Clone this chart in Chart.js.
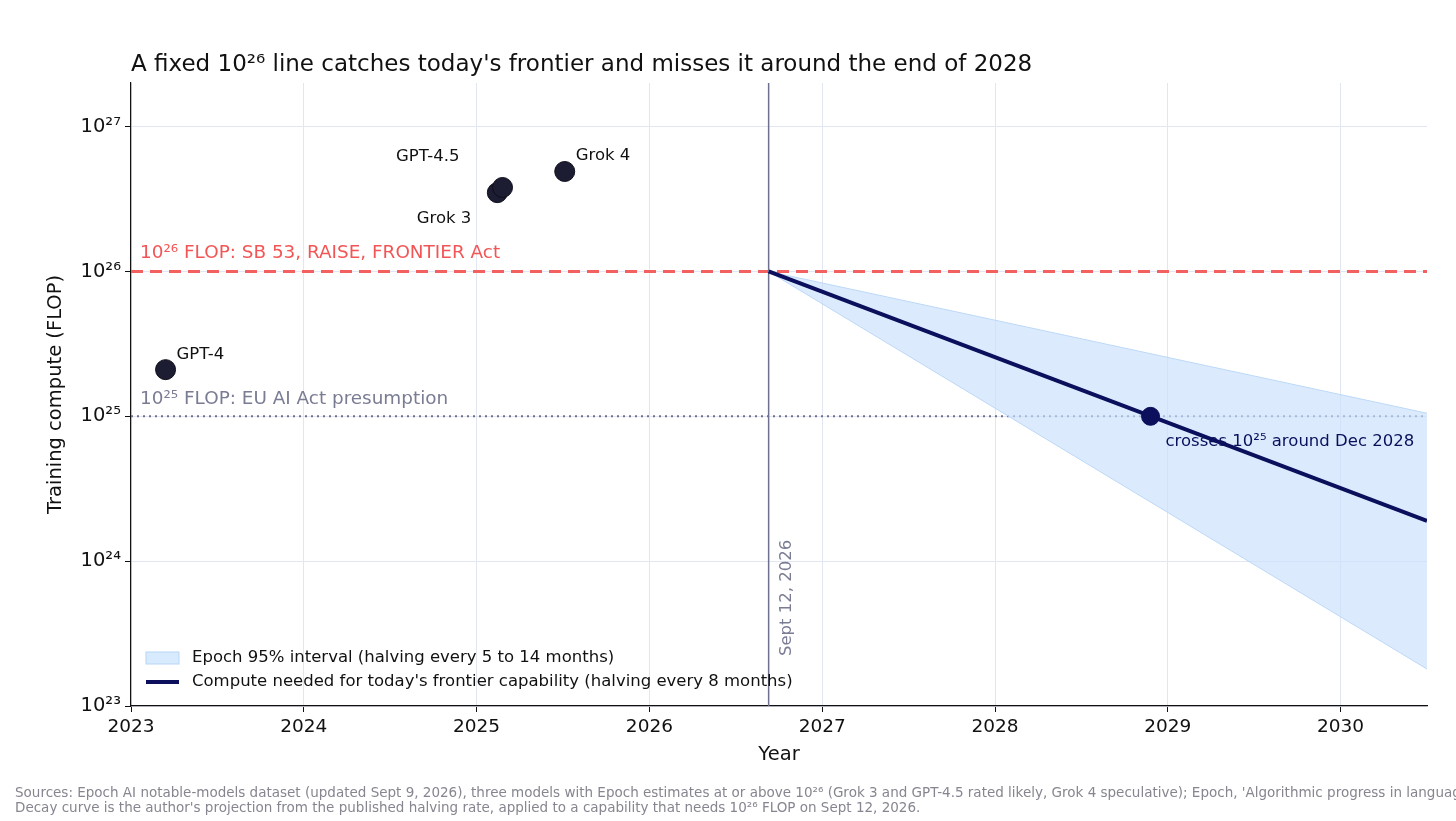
<!DOCTYPE html>
<html>
<head>
<meta charset="utf-8">
<script src="https://cdn.jsdelivr.net/npm/chart.js@4"></script>
<style>
  body { margin: 0; background: #fff; }
  canvas { display: block; }
</style>
</head>
<body>
<canvas id="chart" width="1456" height="821"></canvas>
<script>
// data
const modelNames = ['GPT-4', 'Grok 3', 'GPT-4.5', 'Grok 4'];
const modelYears = [2023.2, 2025.12, 2025.15, 2025.51];
const modelCompute = [2.1e25, 3.5e26, 3.8e26, 4.9e26];

const projYears = [2026.69, 2030.5];
const projCentral = [1e26, 1.9e24];
const projUpper = [1e26, 1.05e25];
const projLower = [1e26, 1.8e23];

const crossYear = 2028.9;
const crossValue = 1e25;
const cutoffYear = 2026.69;

const xTicks = [2023, 2024, 2025, 2026, 2027, 2028, 2029, 2030];
const yTicks = [1e23, 1e24, 1e25, 1e26, 1e27];
const yTickLabels = ['10²³', '10²⁴', '10²⁵', '10²⁶', '10²⁷'];

const FONT = 'DejaVu Sans';
const NAVY = '#0b0f5c';

const annotations = {
  id: 'annotations',
  beforeDatasetsDraw(chart) {
    const { ctx, scales: { x, y }, chartArea: a } = chart;
    ctx.save();
    // threshold lines
    ctx.lineWidth = 3;
    ctx.strokeStyle = '#f26060';
    ctx.setLineDash([12, 7]);
    ctx.beginPath();
    ctx.moveTo(a.left, y.getPixelForValue(1e26));
    ctx.lineTo(a.right, y.getPixelForValue(1e26));
    ctx.stroke();
    ctx.lineWidth = 2;
    ctx.strokeStyle = '#6e7090';
    ctx.setLineDash([2, 4]);
    ctx.beginPath();
    ctx.moveTo(a.left, y.getPixelForValue(1e25));
    ctx.lineTo(a.right, y.getPixelForValue(1e25));
    ctx.stroke();
    ctx.setLineDash([]);
    // cutoff line
    ctx.lineWidth = 1.5;
    ctx.strokeStyle = '#6e7090';
    ctx.beginPath();
    ctx.moveTo(x.getPixelForValue(cutoffYear), a.top);
    ctx.lineTo(x.getPixelForValue(cutoffYear), a.bottom);
    ctx.stroke();
    ctx.restore();
  },
  afterDraw(chart) {
    const { ctx, scales: { x, y }, chartArea: a } = chart;
    ctx.save();
    ctx.textBaseline = 'alphabetic';
    ctx.fillStyle = '#111';
    ctx.font = `23px ${FONT}`;
    ctx.fillText("A fixed 10²⁶ line catches today's frontier and misses it around the end of 2028", 131, 71);

    ctx.font = `18.4px ${FONT}`;
    ctx.fillStyle = '#f25555';
    ctx.fillText('10²⁶ FLOP: SB 53, RAISE, FRONTIER Act', 140, 258);
    ctx.fillStyle = '#7a7c94';
    ctx.fillText('10²⁵ FLOP: EU AI Act presumption', 140, 404);

    ctx.font = `16.5px ${FONT}`;
    ctx.fillStyle = '#111';
    const px = i => x.getPixelForValue(modelYears[i]);
    const py = i => y.getPixelForValue(modelCompute[i]);
    ctx.fillText(modelNames[0], px(0) + 11, py(0) - 11);
    ctx.textAlign = 'right';
    ctx.fillText(modelNames[1], px(1) - 26, py(1) + 30);
    ctx.fillText(modelNames[2], px(2) - 43, py(2) - 26);
    ctx.textAlign = 'left';
    ctx.fillText(modelNames[3], px(3) + 11, py(3) - 11);

    ctx.fillStyle = NAVY;
    ctx.fillText('crosses 10²⁵ around Dec 2028', x.getPixelForValue(crossYear) + 15, y.getPixelForValue(crossValue) + 30);

    // vertical date label
    ctx.save();
    ctx.translate(x.getPixelForValue(cutoffYear) + 22, a.bottom - 50);
    ctx.rotate(-Math.PI / 2);
    ctx.fillStyle = '#7a7c94';
    ctx.fillText('Sept 12, 2026', 0, 0);
    ctx.restore();

    // legend
    ctx.fillStyle = 'rgba(200,225,252,0.7)';
    ctx.strokeStyle = '#b8d6f6';
    ctx.lineWidth = 1;
    ctx.fillRect(146, 652, 33, 12);
    ctx.strokeRect(146, 652, 33, 12);
    ctx.strokeStyle = NAVY;
    ctx.lineWidth = 4;
    ctx.beginPath();
    ctx.moveTo(146, 682);
    ctx.lineTo(179, 682);
    ctx.stroke();
    ctx.fillStyle = '#111';
    ctx.textBaseline = 'middle';
    ctx.fillText('Epoch 95% interval (halving every 5 to 14 months)', 192, 658);
    ctx.fillText("Compute needed for today's frontier capability (halving every 8 months)", 192, 682);

    // axis titles
    ctx.font = `19.5px ${FONT}`;
    ctx.textAlign = 'center';
    ctx.fillText('Year', (a.left + a.right) / 2, 755);
    ctx.save();
    ctx.translate(56, (a.top + a.bottom) / 2);
    ctx.rotate(-Math.PI / 2);
    ctx.fillText('Training compute (FLOP)', 0, 0);
    ctx.restore();

    // footer
    ctx.textAlign = 'left';
    ctx.textBaseline = 'alphabetic';
    ctx.font = `13.5px ${FONT}`;
    ctx.fillStyle = '#85868f';
    ctx.fillText("Sources: Epoch AI notable-models dataset (updated Sept 9, 2026), three models with Epoch estimates at or above 10²⁶ (Grok 3 and GPT-4.5 rated likely, Grok 4 speculative); Epoch, 'Algorithmic progress in language models'.", 15, 797);
    ctx.fillText("Decay curve is the author's projection from the published halving rate, applied to a capability that needs 10²⁶ FLOP on Sept 12, 2026.", 15, 812);
    ctx.restore();
  }
};

new Chart(document.getElementById('chart'), {
  type: 'scatter',
  data: {
    datasets: [
      {
        label: 'upper',
        type: 'line', order: 10,
        data: projYears.map((v, i) => ({ x: v, y: projUpper[i] })),
        borderColor: '#bcd8f7', borderWidth: 1, pointRadius: 0,
        backgroundColor: 'rgba(200,225,252,0.65)', fill: '+1'
      },
      {
        label: 'lower',
        type: 'line', order: 9,
        data: projYears.map((v, i) => ({ x: v, y: projLower[i] })),
        borderColor: '#bcd8f7', borderWidth: 1, pointRadius: 0, fill: false
      },
      {
        label: 'central',
        type: 'line', order: 2,
        data: projYears.map((v, i) => ({ x: v, y: projCentral[i] })),
        borderColor: NAVY, borderWidth: 4, pointRadius: 0, fill: false
      },
      {
        label: 'cross', order: 1,
        data: [{ x: crossYear, y: crossValue }],
        backgroundColor: NAVY, borderColor: NAVY, pointRadius: 9
      },
      {
        label: 'models', order: 0,
        data: modelYears.map((v, i) => ({ x: v, y: modelCompute[i] })),
        backgroundColor: '#1c1c32', borderColor: '#0d0d1a', borderWidth: 1, pointRadius: 10
      }
    ]
  },
  options: {
    responsive: false,
    animation: false,
    layout: { padding: { left: 0, top: 83, right: 29, bottom: 0 } },
    plugins: { legend: { display: false }, tooltip: { enabled: false } },
    scales: {
      x: {
        type: 'linear', min: 2023, max: 2030.5,
        afterBuildTicks: s => { s.ticks = xTicks.map(v => ({ value: v })); },
        afterFit: s => { s.height = 115; },
        ticks: { color: '#111', font: { family: FONT, size: 18.5 }, padding: 4, callback: v => String(v) },
        grid: { color: '#e2e5f2', tickColor: '#111', tickLength: 6 },
        border: { color: '#111', width: 1.2 }
      },
      y: {
        type: 'logarithmic', min: 1e23, max: 2e27,
        afterBuildTicks: s => { s.ticks = yTicks.map(v => ({ value: v })); },
        afterFit: s => { s.width = 131; },
        ticks: {
          color: '#111', font: { family: FONT, size: 19.5 }, padding: 4,
          callback: v => yTickLabels[yTicks.indexOf(v)] || ''
        },
        grid: { color: '#e2e5f2', tickColor: '#111', tickLength: 6 },
        border: { color: '#111', width: 1.2 }
      }
    }
  },
  plugins: [annotations]
});
</script>
</body>
</html>
